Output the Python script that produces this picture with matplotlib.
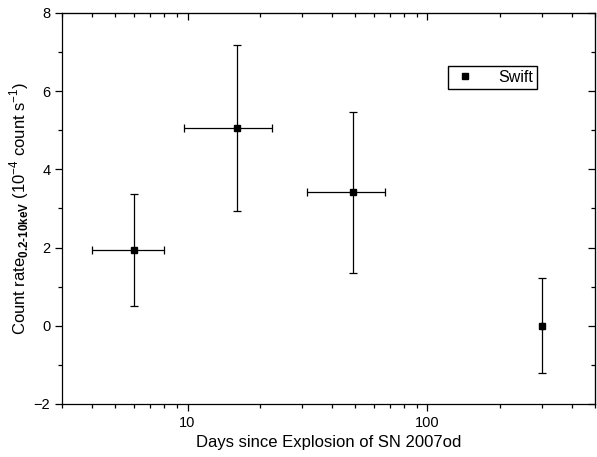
import matplotlib
matplotlib.use("Agg")
import matplotlib.pyplot as plt
from matplotlib.ticker import LogLocator, MultipleLocator, NullFormatter

plt.rcParams["font.family"] = ["Liberation Sans", "DejaVu Sans"]
plt.rcParams["mathtext.fontset"] = "custom"
plt.rcParams["mathtext.rm"] = "Liberation Sans"
plt.rcParams["mathtext.bf"] = "Liberation Sans:bold"

# Swift observations of SN 2007od
days = [6.0, 16.0, 49.0, 300.0]
days_lo = [4.0, 9.7, 31.6, 300.0]
days_hi = [8.0, 22.4, 66.8, 300.0]
rate = [1.93, 5.05, 3.42, 0.0]
rate_err_lo = [1.43, 2.12, 2.07, 1.22]
rate_err_hi = [1.44, 2.12, 2.05, 1.22]


def main():
    fig = plt.figure(figsize=(5.97, 4.57), dpi=100)
    ax = fig.add_axes([0.104, 0.116, 0.893, 0.856])

    xerr = [[d - lo for d, lo in zip(days, days_lo)],
            [hi - d for d, hi in zip(days, days_hi)]]
    ax.errorbar(days, rate, xerr=xerr, yerr=[rate_err_lo, rate_err_hi],
                fmt="s", color="black", ms=5, elinewidth=0.9,
                capsize=3, capthick=0.9)
    # legend proxy: marker only
    ax.plot([], [], "s", color="black", ms=5, label="Swift")

    ax.set_xscale("log")
    ax.set_xlim(3, 500)
    ax.set_ylim(-2, 8)
    ax.yaxis.set_major_locator(MultipleLocator(2))
    ax.yaxis.set_minor_locator(MultipleLocator(1))
    ax.xaxis.set_major_locator(LogLocator(base=10))
    ax.xaxis.set_minor_locator(LogLocator(base=10, subs=range(2, 10)))
    ax.xaxis.set_minor_formatter(NullFormatter())
    ax.xaxis.set_major_formatter(plt.FuncFormatter(lambda v, p: "%d" % v))

    ax.tick_params(which="both", direction="out", labelsize=10.5, width=0.9)
    ax.tick_params(which="major", length=5)
    ax.tick_params(which="minor", length=3)
    for s in ax.spines.values():
        s.set_linewidth(0.9)

    # inward ticks on top and right
    top = ax.secondary_xaxis("top")
    top.xaxis.set_major_locator(LogLocator(base=10))
    top.xaxis.set_minor_locator(LogLocator(base=10, subs=range(2, 10)))
    top.xaxis.set_minor_formatter(NullFormatter())
    top.tick_params(which="both", direction="in", labeltop=False, width=0.9)
    top.tick_params(which="major", length=5)
    top.tick_params(which="minor", length=3)
    right = ax.secondary_yaxis("right")
    right.yaxis.set_major_locator(MultipleLocator(2))
    right.yaxis.set_minor_locator(MultipleLocator(1))
    right.tick_params(which="both", direction="in", labelright=False, width=0.9)
    right.tick_params(which="major", length=5)
    right.tick_params(which="minor", length=3)

    ax.set_xlabel("Days since Explosion of SN 2007od", fontsize=12)
    ax.set_ylabel("Count rate$_{\\mathbf{0.2\u201010keV}}$ (10$^{-4}$ count s$^{-1}$)",
                  fontsize=12, labelpad=2)

    ax.legend(loc="upper left", bbox_to_anchor=(0.724, 0.864), borderaxespad=0,
              fancybox=False, edgecolor="black", framealpha=1, fontsize=11.5,
              handlelength=1.6, handletextpad=1.3, borderpad=0.25, numpoints=1)

    fig.savefig("out.png", dpi=100)


if __name__ == "__main__":
    main()
